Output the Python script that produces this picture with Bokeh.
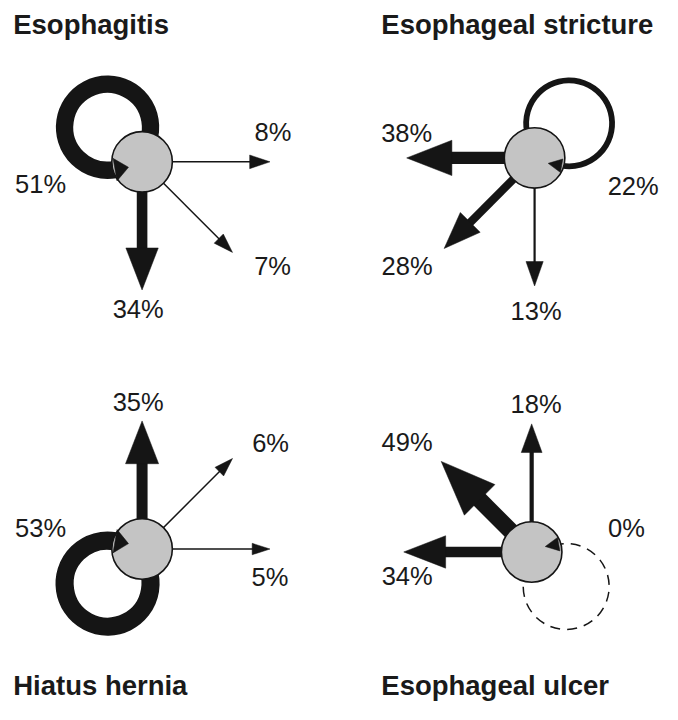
import math
from bokeh.plotting import figure
from bokeh.models import Range1d
from bokeh.core.properties import value
from bokeh.embed import file_html
from bokeh.resources import INLINE

# ---------------- data ----------------
states = ["Esophagitis", "Esophageal stricture", "Hiatus hernia", "Esophageal ulcer"]
# transition percentages: row = from-state, column = to-state (order as in `states`)
from_esophagitis = [51, 8, 34, 7]
from_stricture = [38, 22, 28, 13]
from_hiatus_hernia = [35, 6, 53, 5]
from_ulcer = [49, 18, 34, 0]
transitions = [from_esophagitis, from_stricture, from_hiatus_hernia, from_ulcer]

# ---------------- layout (reference px, y down) ----------------
grid = [(0, 0), (1, 0), (0, 1), (1, 1)]
node_px = [(145, 165), (547, 161), (145, 561), (544, 564)]
title_px = [(13, 25), (390, 25), (13, 701), (390, 701)]
loop_ccw = [True, False, False, True]
label_off = {
    (0, 1): (3, -31), (0, 3): (41, 14), (0, 2): (-4, 19), (0, 0): (-104, 23),
    (1, 0): (0, -25), (1, 2): (-38, 18), (1, 3): (1.5, 25.5), (1, 1): (101, 28.5),
    (2, 0): (-4, -19), (2, 1): (39, -16), (2, 3): (0, 28.5), (2, 2): (-104, -21.5),
    (3, 0): (-35, -20), (3, 1): (4.5, -20.5), (3, 2): (3.5, 24.5), (3, 3): (97, -24.5),
}
NODE_R = 31
ARROW_LEN = 131
LOOP_D = 50
LOOP_R = 44
INK = "#151515"
FONT = "Liberation Sans"


def D(px, py):
    return px, -py


def shaft_w(pct):
    return max(1.5, 0.4 * pct - 3)


p = figure(width=662, height=704, x_range=Range1d(0, 678), y_range=Range1d(-720, 0),
           output_backend="svg", toolbar_location=None, min_border=0,
           x_axis_location=None, y_axis_location=None,
           background_fill_color="white", border_fill_color="white",
           outline_line_color=None)
p.grid.visible = False

heads_x, heads_y = [], []
lab_x, lab_y, lab_t = [], [], []

for i, row in enumerate(transitions):
    nx, ny = D(*node_px[i])
    sc, sr = grid[i]
    for j, pct in enumerate(row):
        if i == j:
            # self loop
            ax, ay = sc - 0.5, -(sr - 0.5)
            phi = math.atan2(ay, ax)
            lx, ly = nx + LOOP_D * math.cos(phi), ny + LOOP_D * math.sin(phi)
            w = shaft_w(pct)
            start = phi + math.pi
            if loop_ccw[i]:
                end = phi + math.radians(145)
                direction = "anticlock"
                tdir = end + math.pi / 2
            else:
                end = phi - math.radians(145)
                direction = "clock"
                tdir = end - math.pi / 2
            kw = dict(line_dash="10 7") if pct == 0 else {}
            p.arc(x=[lx], y=[ly], radius=LOOP_R, start_angle=start, end_angle=end,
                  direction=direction, line_width=w, line_color=INK, **kw)
            ex, ey = lx + LOOP_R * math.cos(end), ly + LOOP_R * math.sin(end)
            ux, uy = math.cos(tdir), math.sin(tdir)
            hl, hw = 14, max(w / 2 + 3, 7)
            heads_x.append([ex + hw * -uy, ex + hl * ux, ex - hw * -uy])
            heads_y.append([ey + hw * ux, ey + hl * uy, ey - hw * ux])
            ox, oy = label_off[(i, j)]
            lab_x.append(nx + ox)
            lab_y.append(ny - oy)
            lab_t.append(f"{pct}%")
        else:
            tc, tr = grid[j]
            dx, dy = tc - sc, -(tr - sr)
            n = math.hypot(dx, dy)
            ux, uy = dx / n, dy / n
            w = shaft_w(pct)
            hl = 14 + 0.85 * pct
            hw = 4 + 0.37 * pct
            tx, ty = nx + ARROW_LEN * ux, ny + ARROW_LEN * uy
            bx, by = tx - hl * ux, ty - hl * uy
            p.segment(x0=[nx], y0=[ny], x1=[bx + ux], y1=[by + uy],
                      line_width=w, line_color=INK)
            heads_x.append([bx - hw * uy, tx, bx + hw * uy])
            heads_y.append([by + hw * ux, ty, by - hw * ux])
            ox, oy = label_off[(i, j)]
            lab_x.append(tx + ox)
            lab_y.append(ty - oy)
            lab_t.append(f"{pct}%")

# nodes
p.circle(x=[D(*c)[0] for c in node_px], y=[D(*c)[1] for c in node_px], radius=NODE_R,
         fill_color="#c4c4c4", line_color=INK, line_width=1.6)

# arrow heads
p.patches(xs=heads_x, ys=heads_y, fill_color=INK, line_color=INK, line_width=0.5)

# percent labels
p.text(x=lab_x, y=lab_y, text=lab_t, text_font=value(FONT), text_font_size=value("25.5px"),
       text_align="center", text_baseline="middle", text_color="#1a1a1a")

# titles
p.text(x=[t[0] for t in title_px], y=[-t[1] for t in title_px], text=states,
       text_font=value(FONT), text_font_size=value("27.5px"), text_font_style="bold",
       text_align="left", text_baseline="middle", text_color="#1a1a1a")

open("out.html", "w").write(file_html(p, INLINE))
